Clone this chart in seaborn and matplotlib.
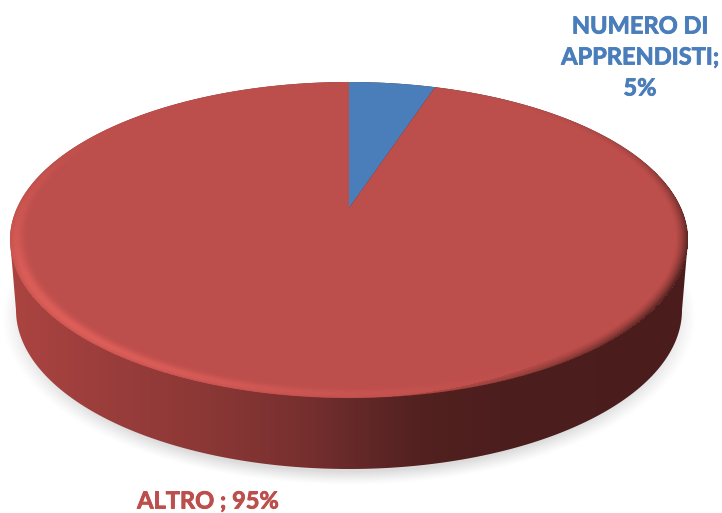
import numpy as np
import matplotlib
matplotlib.use("Agg")
import matplotlib.pyplot as plt
from matplotlib.patches import Polygon
import matplotlib.patheffects as pe
import seaborn as sns

#Pie values
categories = ["NUMERO DI\nAPPRENDISTI;\n5%", "ALTRO ; 95%"]
shares = [5, 95]

sns.set_theme(style="white")
plt.rcParams["font.family"] = ["Lato", "DejaVu Sans"]
colors = sns.color_palette(["#4a7ebb", "#bc4e4b"])

W, H = 722, 513
fig = plt.figure(figsize=(W / 100, H / 100), dpi=100)
ax = fig.add_axes([0, 0, 1, 1])

#tilted disc: unit circle to pixels with a perspective map
CX, CY = 349, 208
K, A, C = 332.0, -109.4, 0.2025


def disc(u, v):
    w = 1 + C * v
    return CX + K * u / w, (A * v + CY) / w


yy, xx = np.mgrid[0:H, 0:W] + 0.5
v_px = (yy - CY) / (A - C * yy)
u_px = (xx - CX) * (1 + C * v_px) / K
r_px = np.hypot(u_px, v_px)
phi_px = np.degrees(np.arctan2(u_px, v_px)) % 360

#shadow under the disc
d = np.hypot((xx - 349) / 347, (yy - 317) / 168)
shadow = np.zeros((H, W, 4))
shadow[..., :3] = 0.8
shadow[..., 3] = np.clip((1 - d) / 0.08, 0, 1) ** 1.2 * 0.7
ax.imshow(shadow, extent=(0, W, H, 0), interpolation="nearest", zorder=1)

#side of the disc, shaded from left to right
stops_x = [10, 100, 200, 300, 360, 420, 500, 690]
stops_r = [172, 155, 140, 120, 100, 82, 76, 74]
stops_g = [68, 62, 56, 48, 40, 33, 30, 29]
stops_b = [65, 60, 54, 47, 40, 32, 29, 28]
side = np.dstack([np.interp(xx, stops_x, s) / 255 for s in (stops_r, stops_g, stops_b)])
side_img = ax.imshow(side, extent=(0, W, H, 0), interpolation="nearest", zorder=2)

t = np.linspace(0, 2 * np.pi, 721)
top_x, top_y = disc(np.cos(t), np.sin(t))
keep = top_y < 245
order = np.argsort(-top_x[keep])
low_t = np.linspace(0, np.pi, 361)
low_x = 349 + 333 * np.cos(low_t)
low_y = 310 + 159 * np.sin(low_t)
outline = np.column_stack([np.r_[top_x[keep][order], low_x[::-1]],
                           np.r_[top_y[keep][order], low_y[::-1]]])
clip = Polygon(outline, closed=True, transform=ax.transData, fc="none", ec="none")
ax.add_patch(clip)
side_img.set_clip_path(clip)

#pie slices, clockwise from the top
start = 0.0
for share, color in zip(shares, colors):
    a = np.radians(np.linspace(start, start + share * 3.6, 400))
    px, py = disc(np.sin(a), np.cos(a))
    ax.fill(np.r_[CX, px], np.r_[CY, py], color=color, lw=0, zorder=3)
    start += share * 3.6

#rim of the disc: light on the lower left, dark on the right
band = np.clip((1 - r_px) / 0.06, 0, 1)
inside = r_px < 1
light = np.exp(-((phi_px - 228) / 48) ** 2) * np.exp(-((band - 0.3) / 0.33) ** 2)
dark = np.exp(-((phi_px - 115) / 42) ** 2) * np.clip(1 - band / 0.6, 0, 1) ** 1.5
over = np.zeros((H, W, 4))
over[..., 0] = np.where(light > dark, 0.93, 0.27)
over[..., 1] = np.where(light > dark, 0.40, 0.11)
over[..., 2] = np.where(light > dark, 0.38, 0.10)
over[..., 3] = np.where(inside, np.maximum(light * 0.7, dark * 0.9), 0)
ax.imshow(over, extent=(0, W, H, 0), interpolation="nearest", zorder=4)

#a thin stroke brings the labels up to the weight of the original
lab1 = ax.text(640, 57, categories[0], color=colors[0], fontsize=17, fontweight="bold",
               ha="center", va="center", linespacing=1.42, zorder=5)
lab2 = ax.text(208, 501, categories[1], color=colors[1], fontsize=17, fontweight="bold",
               ha="center", va="center", zorder=5)
lab1.set_path_effects([pe.withStroke(linewidth=0.6, foreground=colors[0])])
lab2.set_path_effects([pe.withStroke(linewidth=0.6, foreground=colors[1])])

ax.set_xlim(0, W)
ax.set_ylim(H, 0)
ax.set_aspect("auto")
ax.axis("off")
fig.savefig("out.png", dpi=100, facecolor="white")
